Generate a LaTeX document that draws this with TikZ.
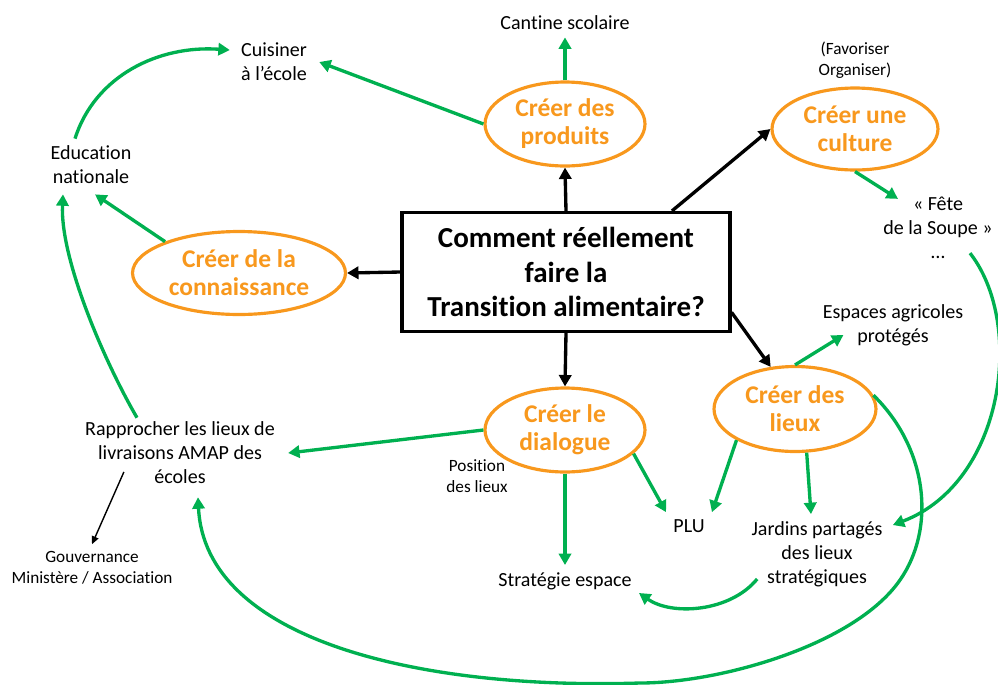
\documentclass[tikz,border=0pt]{standalone}
\usepackage{fontspec}
\setmainfont{Carlito}[Ligatures = NoCommon]
\usetikzlibrary{arrows.meta,positioning}
\usetikzlibrary{calc}
\usetikzlibrary{shapes.geometric}

\definecolor{orangeline}{RGB}{248,152,29}
\definecolor{greenline}{RGB}{0,176,80}

\begin{document}
\begin{tikzpicture}[x = 0.02cm, y = -0.02cm,
        question/.style = {draw = black, line width = 1.8pt, fill = white, minimum width = 6.56cm, minimum height = 2.38cm, align = center, font = \fontsize{16.5}{19.6}\selectfont\bfseries},
        action/.style = {ellipse, draw = orangeline, line width = 1.8pt, fill = white, inner sep = 0, align = center, text = orangeline, font = \fontsize{14.5}{15.9}\selectfont\bfseries},
        leaf/.style = {align = center, inner sep = 4pt, font = \fontsize{11.4}{13.6}\selectfont},
        smallleaf/.style = {align = center, inner sep = 4pt, font = \fontsize{9.8}{11.9}\selectfont},
        blackarrow/.style = {draw = black, line width = 1.9pt, -{Triangle[length = 6.5pt, width = 7pt]}},
        greenarrow/.style = {draw = greenline, line width = 1.9pt, -{Triangle[length = 6.5pt, width = 7pt]}},
        thinarrow/.style = {draw = black, line width = 0.8pt, -{Triangle[length = 4.5pt, width = 4pt]}}
    ]

        \useasboundingbox (0,0) rectangle (998,684);

        % the question in the middle
        \node[question] (question) at (566,272) {Comment réellement\\faire la\\Transition alimentaire?};

        % the five ways
        \node[action, minimum width = 3.2cm, minimum height = 1.68cm] (creer_produits) at (565,124) {Créer des\\produits};
        \node[action, minimum width = 3.32cm, minimum height = 1.64cm] (creer_culture) at (855,129) {Créer une\\culture};
        \node[action, minimum width = 4.26cm, minimum height = 1.66cm] (creer_connaissance) at (239,273) {Créer de la\\connaissance};
        \node[action, minimum width = 3.2cm, minimum height = 1.68cm] (creer_dialogue) at (565,430) {Créer le\\dialogue};
        \node[action, minimum width = 3.24cm, minimum height = 1.7cm] (creer_lieux) at (795,409) {Créer des\\lieux};

        % the texts around
        \node[leaf] (cantine) at (565,23) {Cantine scolaire};
        \node[leaf] (cuisiner) at (274,62) {Cuisiner\\à l’école};
        \node[smallleaf] (favoriser) at (855,60) {(Favoriser\\Organiser)};
        \node[leaf] (education) at (91,165) {Education\\nationale};
        \node[leaf] (fete) at (938,228) {« Fête\\de la Soupe »\\…};
        \node[leaf] (espaces) at (893,325) {Espaces agricoles\\protégés};
        \node[leaf] (rapprocher) at (180,453) {Rapprocher les lieux de\\livraisons AMAP des\\écoles};
        \node[smallleaf] (position) at (477,476) {Position\\des lieux};
        \node[smallleaf] (gouvernance) at (92,568) {Gouvernance\\Ministère / Association};
        \node[leaf] (plu) at (689,526) {PLU};
        \node[leaf] (jardins) at (817,554) {Jardins partagés\\des lieux\\stratégiques};
        \node[leaf] (strategie) at (565,581) {Stratégie espace};

        % points on the long loop
        \coordinate (loop_right) at (900,580);
        \coordinate (loop_bottom) at (640,683);

        % draw the black arrows
        \draw[blackarrow] (question.north) -- (creer_produits.south);
        \draw[blackarrow] ($(question.north west)!0.82!(question.north east)$) -- (creer_culture.west);
        \draw[blackarrow] (question.west) -- (creer_connaissance.east);
        \draw[blackarrow] (question.south) -- (creer_dialogue.north);
        \draw[blackarrow] ($(question.north east)!0.83!(question.south east)$) -- (creer_lieux.120);
        \draw[thinarrow] ($(rapprocher.west)+(46,19)$) -- (gouvernance.north);

        % draw the green arrows
        \draw[greenarrow] (creer_produits.north) -- (cantine.south);
        \draw[greenarrow] (creer_produits.west) -- ($(cuisiner.east)+(5,0)$);
        \draw[greenarrow] (creer_culture.south) -- ($(fete.north west)+(22,9)$);
        \draw[greenarrow] (creer_connaissance.157) -- ($(education.south)+(4,3)$);
        \draw[greenarrow] (creer_dialogue.west) -- ($(rapprocher.east)+(6,0)$);
        \draw[greenarrow] (creer_dialogue.south) -- (strategie.north);
        \draw[greenarrow] (creer_dialogue.-19) -- (plu.north west);
        \draw[greenarrow] (creer_lieux.208) -- (plu.north east);
        \draw[greenarrow] (creer_lieux.-75) -- ($(jardins.north)+(-6,0)$);
        \draw[greenarrow] (creer_lieux.north) -- ($(espaces.west)+(28,10)$);

        % draw the curved ones
        \draw[greenarrow] ($(education.north)+(-16,0)$) .. controls +(20,-63) and +(-71,-5) .. ($(cuisiner.west)+(-4,-12)$);
        \draw[greenarrow] ($(rapprocher.north)+(-43,3)$) .. controls +(-32,-55) and +(-3,65) .. ($(education.south)+(-28,3)$);
        \draw[greenarrow] ($(jardins.west)+(13,25)$) .. controls +(-27,33) and +(33,23) .. ($(strategie.east)+(0,12)$);
        \draw[greenarrow] ($(fete.south)+(32,-13)$) .. controls +(55,70) and +(112,-43) .. ($(jardins.north east)+(3,11)$);
        \draw[greenarrow] (creer_lieux.10) .. controls +(56,55) and +(35,-50) .. (loop_right)
            .. controls +(-45,65) and +(80,0) .. (loop_bottom)
            .. controls +(-220,7) and +(7,143) .. ($(rapprocher.south)+(18,6)$);

\end{tikzpicture}
\end{document}
